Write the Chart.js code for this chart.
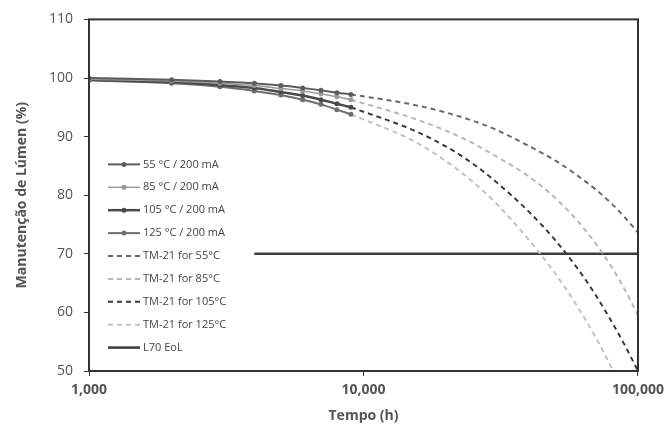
<!DOCTYPE html>
<html>
<head>
<meta charset="utf-8">
<script src="https://cdn.jsdelivr.net/npm/chart.js@4/dist/chart.umd.min.js"></script>
<style>
  body { margin: 0; background: #fff; }
  #wrap { width: 670px; height: 430px; }
</style>
</head>
<body>
<div id="wrap"><canvas id="canvas"></canvas></div>
<script>
// measured data (h / %)
var measHours = [1000, 2000, 3000, 4000, 5000, 6000, 7000, 8000, 9000];
var meas55 = [100, 99.7, 99.4, 99.1, 98.7, 98.3, 97.9, 97.5, 97.2];
var meas85 = [99.8, 99.5, 99.1, 98.7, 98.2, 97.8, 97.3, 96.8, 96.3];
var meas105 = [99.7, 99.3, 98.8, 98.3, 97.6, 97.0, 96.3, 95.6, 95.0];
var meas125 = [99.6, 99.1, 98.5, 97.8, 97.1, 96.3, 95.5, 94.6, 93.8];

// TM-21 projections
var tmHours = [9000, 15000, 20000, 25000, 30000, 40000, 50000, 60000, 70000, 80000, 90000, 100000];
var tm55 = [97.2, 95.5, 94.1, 92.7, 91.3, 88.4, 85.9, 83.4, 81, 78.6, 76.1, 73.6];
var tm85 = [96.3, 93.2, 91, 88.9, 86.8, 83.2, 79.5, 75.7, 71.8, 67.8, 63.7, 59.5];
var tm105 = [95.0, 91.2, 88.3, 85.4, 82.5, 77.2, 72.3, 67.6, 63, 58.5, 54.2, 50];
var tm125 = [93.8, 89.4, 85.8, 82.3, 78.9, 72.4, 66.6, 61.1, 55.8, 50.6, 45.5, 40.5];

// L70 end of life
var eolHours = [4000, 100000];
var eolValues = [70, 70];

var xTicks = [1000, 10000, 100000];
var labels = ['55 °C / 200 mA', '85 °C / 200 mA', '105 °C / 200 mA', '125 °C / 200 mA',
  'TM-21 for 55°C', 'TM-21 for 85°C', 'TM-21 for 105°C', 'TM-21 for 125°C', 'L70 EoL'];

function pairs(xs, ys) {
  return xs.map(function(x, i) { return {x: x, y: ys[i]}; });
}

function measured(label, hrs, vals, color, width) {
  return {
    label: label, data: pairs(hrs, vals), borderColor: color, backgroundColor: color,
    borderWidth: width, pointRadius: 2.5, pointBorderWidth: 0,
    cubicInterpolationMode: 'monotone', clip: 0
  };
}

function projection(label, vals, color, width) {
  return {
    label: label, data: pairs(tmHours, vals), borderColor: color, backgroundColor: color,
    borderWidth: width, borderDash: [5, 4], pointRadius: 0,
    cubicInterpolationMode: 'monotone', clip: 0
  };
}

var datasets = [
  measured(labels[0], measHours, meas55, '#5c5c5c', 2),
  measured(labels[1], measHours, meas85, '#9a9a9a', 1.5),
  measured(labels[2], measHours, meas105, '#4a4a4a', 2.5),
  measured(labels[3], measHours, meas125, '#6e6e6e', 2),
  projection(labels[4], tm55, '#6a6a6a', 2),
  projection(labels[5], tm85, '#b8b8b8', 2),
  projection(labels[6], tm105, '#3a3a3a', 2),
  projection(labels[7], tm125, '#c2c2c2', 2),
  {
    label: labels[8], data: pairs(eolHours, eolValues), borderColor: '#3c3c3c',
    borderWidth: 2.5, pointRadius: 0, clip: 0
  }
];

// frame around the plot area
var framePlugin = {
  id: 'frame',
  afterDatasetsDraw: function(chart) {
    var a = chart.chartArea, ctx = chart.ctx;
    ctx.save();
    ctx.strokeStyle = '#333';
    ctx.lineWidth = 2;
    ctx.strokeRect(a.left, a.top, a.right - a.left, a.bottom - a.top);
    ctx.restore();
  }
};

// legend drawn inside the plot area
var legendPlugin = {
  id: 'insideLegend',
  afterDraw: function(chart) {
    var a = chart.chartArea, ctx = chart.ctx;
    var x0 = a.left + 19, x1 = a.left + 51, y = a.top + 145, step = 22.9;
    ctx.save();
    ctx.font = '11px "Open Sans"';
    ctx.textBaseline = 'middle';
    chart.data.datasets.forEach(function(ds) {
      ctx.strokeStyle = ds.borderColor;
      ctx.lineWidth = ds.borderWidth;
      ctx.setLineDash(ds.borderDash || []);
      ctx.beginPath();
      ctx.moveTo(x0, y);
      ctx.lineTo(x1, y);
      ctx.stroke();
      if (ds.pointRadius) {
        ctx.fillStyle = ds.borderColor;
        ctx.beginPath();
        ctx.arc((x0 + x1) / 2, y, 2.5, 0, Math.PI * 2);
        ctx.fill();
      }
      ctx.setLineDash([]);
      ctx.fillStyle = '#444';
      ctx.fillText(ds.label, x1 + 3, y);
      y += step;
    });
    ctx.restore();
  }
};

var ctx = document.getElementById('canvas').getContext('2d');
var chart = new Chart(ctx, {
  type: 'line',
  data: {datasets: datasets},
  options: {
    responsive: true,
    maintainAspectRatio: false,
    animation: false,
    layout: {padding: {top: 16, right: 32, left: 0, bottom: 0}},
    plugins: {legend: {display: false}, tooltip: {enabled: false}},
    scales: {
      x: {
        type: 'logarithmic', min: 1000, max: 100000,
        afterBuildTicks: function(s) { s.ticks = xTicks.map(function(v) { return {value: v}; }); },
        afterFit: function(s) { s.height = 59; },
        grid: {display: true, drawOnChartArea: false, drawTicks: true, tickLength: 5, color: '#333'},
        border: {display: false},
        ticks: {
          padding: 6, color: '#555', font: {family: 'Open Sans', size: 14, weight: 'bold'},
          maxRotation: 0, autoSkip: false,
          callback: function(v) { return Number(v).toLocaleString('en-US'); }
        },
        title: {display: true, text: 'Tempo (h)', color: '#555',
          font: {family: 'Open Sans', size: 14, weight: 'bold'}, padding: {top: 0, bottom: 6}}
      },
      y: {
        min: 50, max: 110,
        afterFit: function(s) { s.width = 89; },
        grid: {display: true, drawOnChartArea: false, drawTicks: true, tickLength: 5, color: '#333'},
        border: {display: false},
        ticks: {stepSize: 10, padding: 11, color: '#555', font: {family: 'Open Sans', size: 14}},
        title: {display: true, text: 'Manutenção de Lúmen (%)', color: '#555',
          font: {family: 'Open Sans', size: 14, weight: 'bold'}, padding: {top: 14, bottom: 0}}
      }
    }
  },
  plugins: [framePlugin, legendPlugin]
});
</script>
</body>
</html>
